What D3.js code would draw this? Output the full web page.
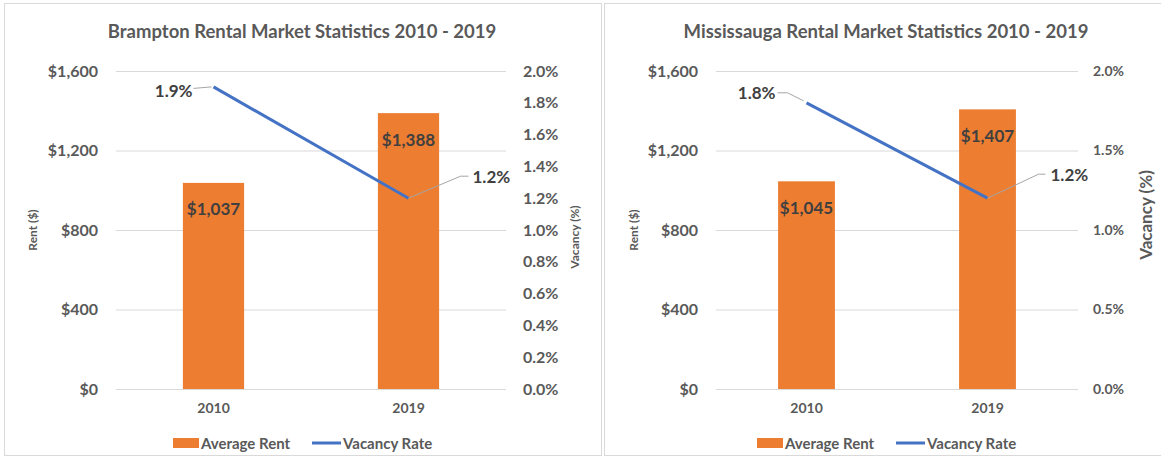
<!DOCTYPE html>
<html>
<head>
<meta charset="utf-8">
<script src="https://cdn.jsdelivr.net/npm/d3@7"></script>
<style>
  body { margin: 0; background: #fff; }
  text { font-family: Lato, "Open Sans", sans-serif; font-weight: bold; }
</style>
</head>
<body>
<div id="chart"></div>
<script>
// data
const years = ["2010", "2019"];
const bramptonRent = [1037, 1388];
const bramptonVacancy = [1.9, 1.2];
const mississaugaRent = [1045, 1407];
const mississaugaVacancy = [1.8, 1.2];
const rentTicks = [0, 400, 800, 1200, 1600];
const bramptonVacTicks = [0, 0.2, 0.4, 0.6, 0.8, 1.0, 1.2, 1.4, 1.6, 1.8, 2.0];
const mississaugaVacTicks = [0, 0.5, 1.0, 1.5, 2.0];

const W = 1161, H = 462;
const orange = "#ED7D31", blue = "#4472C4", grey = "#595959";

const svg = d3.select("#chart").append("svg")
  .attr("width", W)
  .attr("height", H);

// one chart panel
function drawPanel(p) {
  const g = svg.append("g");

  // panel frame
  g.append("rect")
    .attr("x", p.frame[0]).attr("y", 3.5)
    .attr("width", p.frame[1] - p.frame[0]).attr("height", 452)
    .attr("fill", "none").attr("stroke", "#D9D9D9");

  // excel style: bar centred in each category, gap width ~219%
  const x = d3.scaleBand().domain(years).range([p.left, p.right])
    .paddingInner(0.686).paddingOuter(0.343);
  const y = d3.scaleLinear().domain([0, 1600]).range([389, 71]);
  const y2 = d3.scaleLinear().domain([0, 2.0]).range([389, 71]);

  // title
  g.append("text")
    .attr("x", p.cx).attr("y", 31)
    .attr("text-anchor", "middle").attr("dominant-baseline", "central")
    .style("font-size", "18.5px").attr("fill", grey)
    .text(p.title);

  // gridlines
  g.append("g")
    .attr("transform", "translate(" + p.left + ",0)")
    .call(d3.axisLeft(y).tickValues(rentTicks).tickSize(-(p.right - p.left)).tickFormat(""))
    .call(a => a.select(".domain").remove())
    .call(a => a.selectAll("line").attr("stroke", "#D9D9D9"));

  // left axis labels
  g.append("g")
    .attr("transform", "translate(" + (p.left - 18) + ",0)")
    .call(d3.axisLeft(y).tickValues(rentTicks).tickSize(0).tickPadding(0)
      .tickFormat(d => "$" + d3.format(",")(d)))
    .call(a => a.select(".domain").remove())
    .call(a => a.selectAll("text").attr("fill", grey).style("font-size", "16px")
      .style("font-family", null));

  // right axis labels
  g.append("g")
    .attr("transform", "translate(" + (p.right + p.rPad) + ",0)")
    .call(d3.axisRight(y2).tickValues(p.vacTicks).tickSize(0).tickPadding(0)
      .tickFormat(d => d.toFixed(1) + "%"))
    .call(a => a.select(".domain").remove())
    .call(a => a.selectAll("text").attr("fill", grey).style("font-size", p.rFont)
      .style("font-family", null));

  // x axis labels
  g.append("g")
    .attr("transform", "translate(0,389)")
    .call(d3.axisBottom(x).tickSize(0).tickPadding(14))
    .call(a => a.select(".domain").remove())
    .call(a => a.selectAll("text").attr("fill", grey).style("font-size", "14px")
      .style("font-family", null));

  // axis titles
  g.append("text")
    .attr("transform", "translate(" + p.rentTitleX + ",230) rotate(-90)")
    .attr("text-anchor", "middle").attr("dominant-baseline", "central")
    .style("font-size", "12px").attr("fill", grey)
    .text("Rent ($)");
  g.append("text")
    .attr("transform", "translate(" + p.vacTitle[0] + "," + p.vacTitle[1] + ") rotate(-90)")
    .attr("text-anchor", "middle").attr("dominant-baseline", "central")
    .style("font-size", p.vacTitle[2]).attr("fill", grey)
    .text("Vacancy (%)");

  // bars
  g.selectAll(".bar")
    .data(years)
    .enter().append("rect")
    .attr("class", "bar")
    .attr("x", d => x(d))
    .attr("width", x.bandwidth())
    .attr("y", (d, i) => y(p.rent[i]))
    .attr("height", (d, i) => y(0) - y(p.rent[i]))
    .attr("fill", orange);

  g.selectAll(".barlabel")
    .data(years)
    .enter().append("text")
    .attr("x", d => x(d) + x.bandwidth() / 2)
    .attr("y", (d, i) => y(p.rent[i]) + 26)
    .attr("text-anchor", "middle").attr("dominant-baseline", "central")
    .style("font-size", "17px").attr("fill", "#404040")
    .text((d, i) => "$" + d3.format(",")(p.rent[i]));

  // vacancy line
  const px = d => x(d) + x.bandwidth() / 2;
  g.append("path")
    .datum(years)
    .attr("d", d3.line().x(px).y((d, i) => y2(p.vac[i])))
    .attr("fill", "none").attr("stroke", blue).attr("stroke-width", 3);

  // vacancy labels with leader lines
  years.forEach((d, i) => {
    const cx = px(d), cy = y2(p.vac[i]);
    const L = p.leaders[i];
    g.append("polyline")
      .attr("points", L.pts.map(q => (cx + q[0]) + "," + (cy + q[1])).join(" "))
      .attr("fill", "none").attr("stroke", "#A6A6A6").attr("stroke-width", 1);
    g.append("text")
      .attr("x", cx + L.tx).attr("y", cy + L.ty)
      .attr("text-anchor", L.anchor).attr("dominant-baseline", "central")
      .style("font-size", "17px").attr("fill", "#404040")
      .text(p.vac[i].toFixed(1) + "%");
  });

  // legend
  const lg = g.append("g").attr("transform", "translate(" + p.cx + ",443)");
  lg.append("rect").attr("x", -129).attr("y", -5).attr("width", 26).attr("height", 10).attr("fill", orange);
  lg.append("text").attr("x", -101).attr("dominant-baseline", "central")
    .style("font-size", "15px").attr("fill", grey).text("Average Rent");
  lg.append("line").attr("x1", 10).attr("x2", 39).attr("y1", 0).attr("y2", 0)
    .attr("stroke", blue).attr("stroke-width", 3);
  lg.append("text").attr("x", 41).attr("dominant-baseline", "central")
    .style("font-size", "15px").attr("fill", grey).text("Vacancy Rate");
}

drawPanel({
  title: "Brampton Rental Market Statistics 2010 - 2019",
  frame: [4.5, 601.5], cx: 302, left: 116, right: 506,
  rent: bramptonRent, vac: bramptonVacancy, vacTicks: bramptonVacTicks,
  rPad: 17, rFont: "16px", rentTitleX: 32, vacTitle: [574, 237, "12px"],
  leaders: [
    { pts: [[-20, 1.5], [-2, 0]], tx: -21, ty: 4, anchor: "end" },
    { pts: [[0, 0], [52, -22], [60, -22]], tx: 64, ty: -22, anchor: "start" }
  ]
});

drawPanel({
  title: "Mississauga Rental Market Statistics 2010 - 2019",
  frame: [604.5, 1170], cx: 886, left: 716, right: 1078,
  rent: mississaugaRent, vac: mississaugaVacancy, vacTicks: mississaugaVacTicks,
  rPad: 15, rFont: "14px", rentTitleX: 633, vacTitle: [1145, 215, "17px"],
  leaders: [
    { pts: [[-29, -10], [-19, -10], [-3, -2]], tx: -31, ty: -10, anchor: "end" },
    { pts: [[0, 0], [51, -24], [58, -24]], tx: 63, ty: -24, anchor: "start" }
  ]
});
</script>
</body>
</html>
